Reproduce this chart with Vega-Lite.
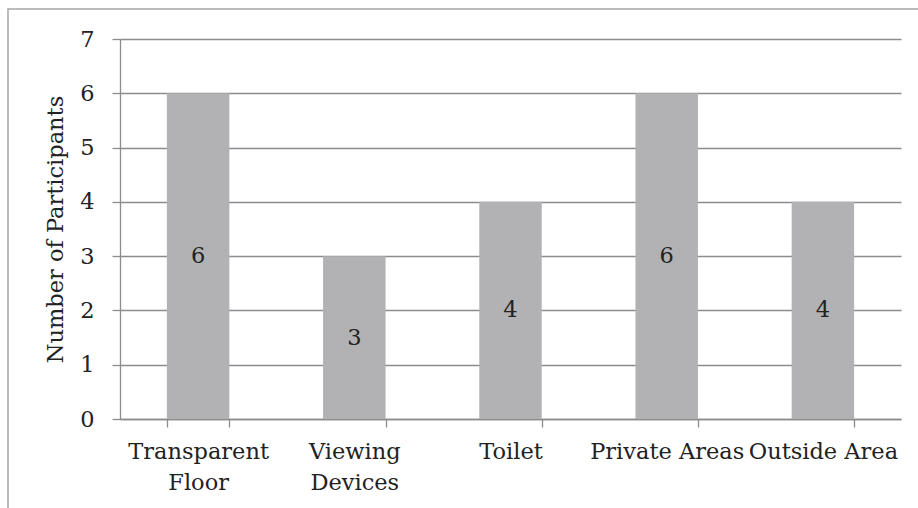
{
  "$schema": "https://vega.github.io/schema/vega-lite/v6.json",
  "width": 910,
  "height": 499,
  "autosize": {"type": "none"},
  "padding": {"left": 8, "top": 9, "right": 0, "bottom": 0},
  "background": "white",
  "config": {
    "view": {"stroke": "#a6a6a6", "strokeWidth": 1.5, "strokeDash": [910, 1409]},
    "font": "DejaVu Serif",
    "axis": {
      "labelFont": "DejaVu Serif",
      "titleFont": "DejaVu Serif",
      "labelFontSize": 22.5,
      "titleFontSize": 22.5,
      "titleFontWeight": "normal",
      "labelColor": "#222222",
      "titleColor": "#222222",
      "domainColor": "#8c8c8c",
      "tickColor": "#8c8c8c",
      "gridColor": "#8c8c8c",
      "domainWidth": 1.3,
      "tickWidth": 1.3,
      "gridWidth": 1.3,
      "tickSize": 8
    }
  },
  "data": {
    "values": [
      {"category": "Transparent Floor", "participants": 6},
      {"category": "Viewing Devices", "participants": 3},
      {"category": "Toilet", "participants": 4},
      {"category": "Private Areas", "participants": 6},
      {"category": "Outside Area", "participants": 4}
    ]
  },
  "encoding": {
    "x": {
      "field": "category",
      "type": "nominal",
      "sort": null,
      "scale": {"range": [112, 893], "paddingInner": 0.6, "paddingOuter": 0.3},
      "axis": {
        "orient": "bottom",
        "offset": -89,
        "title": null,
        "labelAngle": 0,
        "tickBand": "extent",
        "grid": false,
        "labelPadding": 13,
        "labelLineHeight": 31,
        "labelLimit": 300,
        "labelExpr": "datum.label == 'Transparent Floor' ? ['Transparent', 'Floor'] : datum.label == 'Viewing Devices' ? ['Viewing', 'Devices'] : datum.label"
      }
    }
  },
  "layer": [
    {
      "mark": {"type": "bar", "color": "#b2b2b4"},
      "encoding": {
        "y": {
          "field": "participants",
          "type": "quantitative",
          "scale": {"domain": [0, 7], "range": [410, 30], "nice": false},
          "axis": {
            "values": [0, 1, 2, 3, 4, 5, 6, 7],
            "format": "d",
            "offset": -112,
            "grid": true,
            "labelPadding": 18,
            "title": "Number of Participants",
            "titlePadding": 12
          }
        }
      }
    },
    {
      "mark": {"type": "text", "fontSize": 22.5, "color": "#222222", "font": "DejaVu Serif", "baseline": "middle"},
      "encoding": {
        "y": {
          "field": "participants",
          "type": "quantitative",
          "scale": {"domain": [0, 14], "range": [410, 30], "nice": false},
          "axis": null
        },
        "text": {"field": "participants", "type": "quantitative"}
      }
    }
  ],
  "resolve": {"scale": {"y": "independent"}}
}
